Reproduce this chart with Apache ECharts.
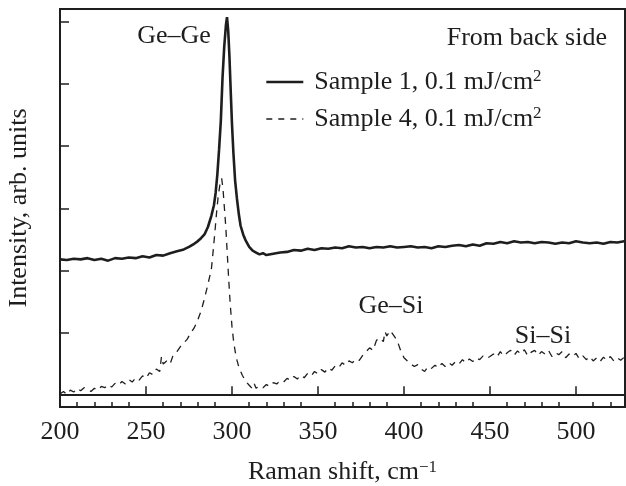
<!DOCTYPE html>
<html>
<head>
<meta charset="utf-8">
<script src="https://cdn.jsdelivr.net/npm/echarts@6/dist/echarts.min.js"></script>
<style>html,body{margin:0;padding:0;background:#fff;}#c{width:626px;height:486px;}</style>
</head>
<body>
<div id="c"></div>
<script>
// Raman shift (cm^-1) and intensity (arb. units, in y-tick steps)
const seriesNames = ['Sample 1, 0.1 mJ/cm2', 'Sample 4, 0.1 mJ/cm2'];
const xSolid = [200,204,208,212,216,220,224,228,232,236,240,244,248,252,256,260,264,268,272,275,278,280,282,284,286,288,289.5,290.5,291.5,292.5,293.5,294.5,295.5,296.5,297.1,297.8,298.5,299.3,300,300.8,301.8,302.9,304,305,306.5,308,310,312,314,316,318,320,324,328,332,336,340,344,348,352,356,360,364,368,372,376,380,384,388,392,396,400,404,408,412,416,420,424,428,432,436,440,444,448,452,456,460,464,468,472,476,480,484,488,492,496,500,504,508,512,516,520,524,528];
const ySolid = [2.18,2.17,2.19,2.18,2.20,2.17,2.19,2.16,2.20,2.19,2.21,2.20,2.23,2.21,2.25,2.24,2.28,2.31,2.34,2.38,2.43,2.47,2.52,2.58,2.70,2.88,3.05,3.25,3.55,3.95,4.40,5.10,5.60,5.95,6.07,5.85,5.45,4.85,4.35,3.90,3.45,3.15,2.90,2.72,2.58,2.48,2.38,2.32,2.29,2.26,2.28,2.25,2.27,2.29,2.30,2.33,2.32,2.35,2.33,2.36,2.35,2.37,2.36,2.39,2.37,2.38,2.36,2.38,2.37,2.39,2.37,2.38,2.39,2.37,2.38,2.36,2.39,2.38,2.40,2.41,2.39,2.42,2.40,2.44,2.43,2.46,2.44,2.47,2.45,2.46,2.44,2.46,2.45,2.43,2.45,2.44,2.47,2.45,2.44,2.45,2.43,2.46,2.45,2.47];
const xDashed = [200,202,204,206,208,210,212,214,216,218,220,222,224,226,228,230,232,234,236,238,240,242,244,246,248,250,252,254,256,258,259,260,262,264,266,268,270,272,274,276,278,280,282,284,286,288,289,290,291,292,293,294,294.8,295.6,296.4,297.2,298,299,300,301,302,303,304,306,308,310,312,313,314,316,318,320,322,324,326,328,330,332,334,336,338,340,342,344,346,348,350,352,354,356,358,360,362,364,366,368,370,372,374,376,378,380,382,384,386,388,389,390,392,394,396,398,400,402,404,406,408,410,412,414,416,418,420,422,424,426,428,430,432,434,436,438,440,442,444,446,448,450,452,454,456,458,460,462,464,466,468,470,472,474,476,478,480,482,484,486,488,490,492,494,496,498,500,502,504,506,508,510,512,514,516,518,520,522,524,526,528];
const yDashed = [0.02,0.06,0.01,0.08,0.05,0.11,0.07,0.12,0.09,0.06,0.11,0.08,0.14,0.12,0.17,0.13,0.19,0.16,0.22,0.18,0.25,0.21,0.28,0.24,0.31,0.27,0.36,0.33,0.42,0.38,0.62,0.50,0.55,0.50,0.66,0.70,0.78,0.84,0.90,1.00,1.08,1.20,1.35,1.55,1.78,2.02,2.30,2.60,2.92,3.20,3.38,3.48,3.30,3.00,2.70,2.30,1.90,1.45,1.10,0.85,0.68,0.55,0.45,0.32,0.22,0.16,0.10,0.18,0.11,0.15,0.12,0.17,0.14,0.20,0.18,0.23,0.21,0.27,0.24,0.30,0.26,0.32,0.28,0.35,0.31,0.38,0.34,0.41,0.37,0.44,0.40,0.47,0.44,0.52,0.48,0.55,0.52,0.58,0.56,0.64,0.70,0.76,0.72,0.88,0.92,0.86,1.02,0.95,1.04,0.96,0.88,0.72,0.60,0.55,0.50,0.46,0.49,0.42,0.38,0.46,0.43,0.48,0.44,0.51,0.46,0.52,0.48,0.54,0.50,0.57,0.52,0.58,0.54,0.60,0.57,0.63,0.59,0.62,0.66,0.61,0.70,0.63,0.68,0.72,0.64,0.71,0.66,0.73,0.63,0.69,0.72,0.64,0.70,0.66,0.72,0.62,0.68,0.65,0.70,0.60,0.66,0.62,0.67,0.58,0.63,0.57,0.62,0.55,0.60,0.54,0.61,0.56,0.62,0.55,0.60,0.56,0.61];
const xMajorTicks = [200,250,300,350,400,450,500];
const xMinorTicks = [210,220,230,240,260,270,280,290,310,320,330,340,360,370,380,390,410,420,430,440,460,470,480,490,510,520];
const yTicks = [0,1,2,3,4,5,6];
const annotations = ['Ge–Ge', 'Ge–Si', 'Si–Si', 'From back side'];

const FONT = 'Liberation Serif';
const INK = '#1e1e1e';
const pairs = (xs, ys) => xs.map((x, i) => [x, ys[i]]);

const chart = echarts.init(document.getElementById('c'), null, {renderer: 'canvas'});
chart.setOption({
  animation: false,
  backgroundColor: '#fff',
  grid: {left: 60, right: 1, top: 9, bottom: 79, show: true, borderColor: INK, borderWidth: 2, backgroundColor: 'transparent', containLabel: false, outerBoundsMode: 'none'},
  legend: {
    orient: 'vertical', left: 265, top: 68, padding: 0, itemWidth: 37, itemHeight: 14, itemGap: 10,
    data: [
      {name: seriesNames[0], lineStyle: {width: 2.6, color: INK}},
      {name: seriesNames[1], lineStyle: {width: 1.4, color: INK, type: [6, 6]}}
    ],
    itemStyle: {opacity: 0},
    formatter: n => '{n|' + n.slice(0, -1) + '}{s|' + n.slice(-1) + '}',
    textStyle: {
      fontFamily: FONT, fontSize: 26, color: INK, padding: [0, 0, 0, 6],
      rich: {n: {fontFamily: FONT, fontSize: 26, color: INK, lineHeight: 28},
             s: {fontFamily: FONT, fontSize: 17, color: INK, verticalAlign: 'top', lineHeight: 17}}
    }
  },
  xAxis: [{
    type: 'value', min: 200, max: 528.5, interval: 50,
    axisLine: {show: true, lineStyle: {color: INK, width: 2}},
    axisTick: {show: true, inside: true, length: 9, lineStyle: {color: INK, width: 1.5}, customValues: xMajorTicks},
    axisLabel: {fontFamily: FONT, fontSize: 26, color: INK, margin: 12, customValues: xMajorTicks},
    splitLine: {show: false},
    name: 'Raman shift, cm{s|−1}', nameLocation: 'middle', nameGap: 52,
    nameTextStyle: {fontFamily: FONT, fontSize: 26, color: INK,
      rich: {s: {fontFamily: FONT, fontSize: 17, color: INK, verticalAlign: 'top', lineHeight: 17}}}
  }, {
    type: 'value', min: 200, max: 528.5, position: 'bottom', gridIndex: 0,
    axisLine: {show: false},
    axisTick: {show: true, inside: true, length: 5, lineStyle: {color: INK, width: 1.5}, customValues: xMinorTicks},
    axisLabel: {show: false}, splitLine: {show: false}
  }],
  yAxis: {
    type: 'value', min: -0.19, max: 6.2,
    axisLine: {show: true, lineStyle: {color: INK, width: 2}},
    axisTick: {show: true, inside: true, length: 9, lineStyle: {color: INK, width: 1.5}, customValues: yTicks},
    axisLabel: {show: false},
    splitLine: {show: false},
    name: 'Intensity, arb. units', nameLocation: 'middle', nameGap: 28,
    nameTextStyle: {fontFamily: FONT, fontSize: 26, color: INK}
  },
  series: [{
    name: seriesNames[0], type: 'line', xAxisIndex: 0, data: pairs(xSolid, ySolid),
    showSymbol: false, symbol: 'none', smooth: false,
    lineStyle: {color: INK, width: 2.6}, itemStyle: {color: INK}
  }, {
    name: seriesNames[1], type: 'line', xAxisIndex: 0, data: pairs(xDashed, yDashed),
    showSymbol: false, symbol: 'none', smooth: false,
    lineStyle: {color: INK, width: 1.3, type: [7, 6]}, itemStyle: {color: INK}
  }],
  graphic: [
    {type: 'text', x: 174, y: 36, style: {text: annotations[0], font: '26px "Liberation Serif"', fill: INK, align: 'center', verticalAlign: 'middle'}},
    {type: 'text', x: 391, y: 306, style: {text: annotations[1], font: '26px "Liberation Serif"', fill: INK, align: 'center', verticalAlign: 'middle'}},
    {type: 'text', x: 543, y: 336, style: {text: annotations[2], font: '26px "Liberation Serif"', fill: INK, align: 'center', verticalAlign: 'middle'}},
    {type: 'text', x: 607, y: 38, style: {text: annotations[3], font: '26px "Liberation Serif"', fill: INK, align: 'right', verticalAlign: 'middle'}}
  ]
});
</script>
</body>
</html>
